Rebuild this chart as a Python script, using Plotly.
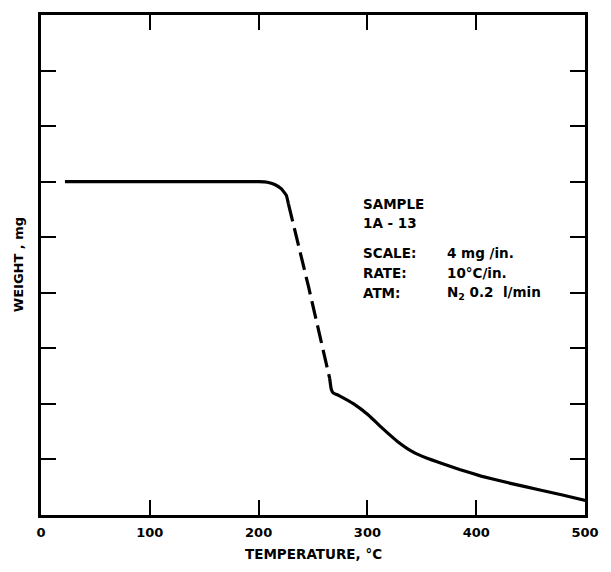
import plotly.graph_objects as go

# Data (temperature in °C, weight in chart divisions)
temp_upper = [22, 100, 200, 208, 214.8, 221, 225.6, 227.4]
weight_upper = [6.0, 6.0, 6.0, 5.99, 5.95, 5.87, 5.75, 5.6]

temp_dashed = [227.4, 246, 265.3]
weight_dashed = [5.6, 4.1, 2.46]

temp_lower = [265.3, 266.7, 268.5, 273.9, 287.4, 300.9, 314.4, 327.9, 341.4, 354.9,
              371.2, 384.7, 404.5, 431.5, 458.6, 479.3, 500.5]
weight_lower = [2.46, 2.27, 2.2, 2.15, 2.0, 1.8, 1.55, 1.32, 1.14, 1.02,
                0.91, 0.82, 0.70, 0.57, 0.45, 0.36, 0.26]

x_ticks = [0, 100, 200, 300, 400, 500]
y_ticks = list(range(0, 10))

FONT = "DejaVu Sans"
line_style = dict(color="black", width=3.2, shape="spline", smoothing=0.3)

fig = go.Figure()
fig.add_trace(go.Scatter(x=temp_upper, y=weight_upper, mode="lines", line=line_style, hoverinfo="skip"))
fig.add_trace(go.Scatter(x=temp_dashed, y=weight_dashed, mode="lines",
                         line=dict(color="black", width=3.2, dash="18px,7px"), hoverinfo="skip"))
fig.add_trace(go.Scatter(x=temp_lower, y=weight_lower, mode="lines", line=line_style, hoverinfo="skip"))

annots = [
    dict(x=294, y=5.6, text="<b>SAMPLE</b>"),
    dict(x=294, y=5.26, text="<b>1A - 13</b>"),
    dict(x=294, y=4.72, text="<b>SCALE:</b>"),
    dict(x=294, y=4.36, text="<b>RATE:</b>"),
    dict(x=294, y=4.0, text="<b>ATM:</b>"),
    dict(x=371, y=4.72, text="<b>4 mg /in.</b>"),
    dict(x=371, y=4.36, text="<b>10°C/in.</b>"),
    dict(x=371, y=4.0, text="<b>N<sub>2</sub> 0.2  l/min</b>"),
]
for a in annots:
    fig.add_annotation(x=a["x"], y=a["y"], text=a["text"], showarrow=False,
                       xanchor="left", yanchor="middle",
                       font=dict(family=FONT, size=13.5, color="black"))

fig.add_annotation(x=-0.042, y=0.5, xref="paper", yref="paper", text="<b>WEIGHT , mg</b>",
                   textangle=-90, showarrow=False, xanchor="center", yanchor="middle",
                   font=dict(family=FONT, size=13, color="black"))
fig.add_annotation(x=0.5, y=-0.058, xref="paper", yref="paper", text="<b>TEMPERATURE, °C</b>",
                   showarrow=False, xanchor="center", yanchor="top",
                   font=dict(family=FONT, size=13.5, color="black"))

fig.update_layout(
    width=611, height=572,
    margin=dict(l=41, r=15, t=14, b=57),
    paper_bgcolor="white", plot_bgcolor="white",
    showlegend=False,
    xaxis=dict(range=[0, 500], tickvals=x_ticks, ticktext=["<b>%d</b>" % v for v in x_ticks],
               showgrid=False, zeroline=False, showline=True, linecolor="black", linewidth=2.5,
               mirror="ticks", ticks="inside", ticklen=15, tickwidth=2, tickcolor="black",
               ticklabelstandoff=4,
               tickfont=dict(family=FONT, size=13, color="black")),
    yaxis=dict(range=[0, 9], tickvals=y_ticks, showticklabels=False,
               showgrid=False, zeroline=False, showline=True, linecolor="black", linewidth=2.5,
               mirror="ticks", ticks="inside", ticklen=15, tickwidth=2, tickcolor="black"),
)

fig.write_html("out.html")
